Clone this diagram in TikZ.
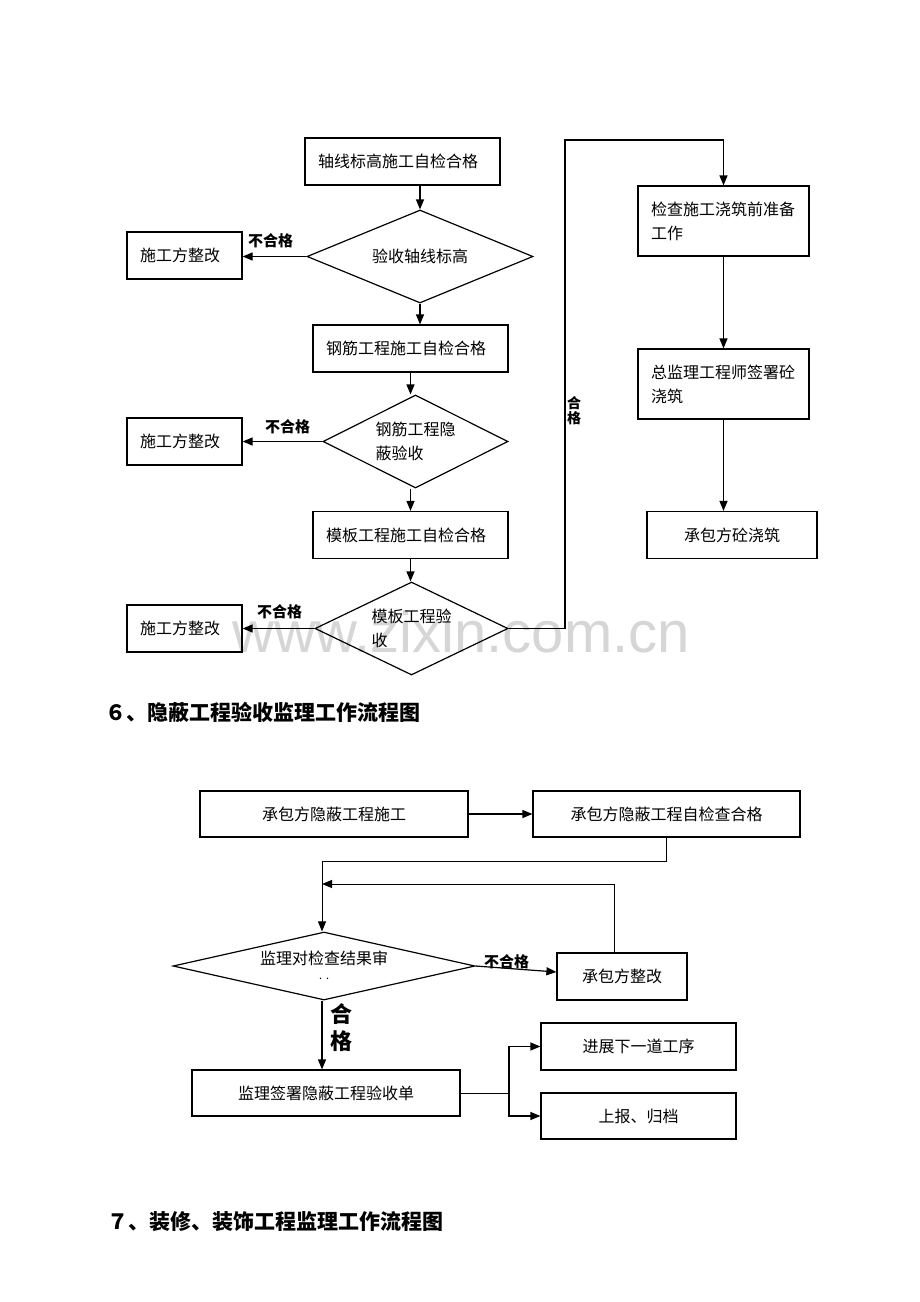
\documentclass[tikz,border=0pt]{standalone}
\usepackage{fontspec}
\setmainfont{Noto Sans CJK SC}
\newfontfamily\wmfont{Liberation Sans}
\usetikzlibrary{shapes.geometric,arrows.meta}

\begin{document}
\begin{tikzpicture}[x=1pt,y=-1pt]
    \tikzstyle{box} = [draw, rectangle, line width=1.2pt, font=\fontsize{16}{24}\selectfont, minimum height=47pt, inner sep=0pt]
    \tikzstyle{lbox} = [box, inner xsep=13pt, align=left]
    \tikzstyle{dec} = [draw, diamond, shape aspect=2, line width=1.2pt, font=\fontsize{16}{24}\selectfont, inner sep=0pt, minimum height=93pt]
    \tikzstyle{arr} = [line width=1.2pt, -{Triangle[length=10pt,width=8pt]}]
    \tikzstyle{ann} = [font=\fontsize{15}{15}\selectfont\bfseries, inner sep=0pt]
    \tikzstyle{head} = [font=\fontsize{21}{21}\selectfont\bfseries, inner sep=0pt, anchor=west]

    \useasboundingbox[fill=white] (0,0) rectangle (920,1302);
    \node[text=black!16, font=\wmfont\fontsize{58}{58}\selectfont] (wm) at (461,632) {www.zixin.com.cn};

    % upper chart
    \node[lbox, text width=169pt] (zx) at (402.5,161.5) {轴线标高施工自检合格};
    \node[dec, minimum width=226pt] (ysd) at (420,256.5) {验收轴线标高};
    \node[lbox, text width=89pt] (zg1) at (184.5,255.5) {施工方整改};
    \node[lbox, text width=169pt] (gj) at (410.5,348.5) {钢筋工程施工自检合格};
    \node[dec, minimum width=185pt, align=left] (gjd) at (415.5,441.5) {钢筋工程隐\\蔽验收};
    \node[lbox, text width=89pt] (zg2) at (184.5,441.5) {施工方整改};
    \node[lbox, text width=169pt] (mb) at (410.5,535) {模板工程施工自检合格};
    \node[dec, minimum width=193pt, align=left] (mbd) at (411.5,628.5) {模板工程验\\收};
    \node[lbox, text width=89pt] (zg3) at (184.5,628.5) {施工方整改};
    \node[lbox, text width=145pt, minimum height=70pt] (jc) at (723.5,221) {检查施工浇筑前准备\\工作};
    \node[lbox, text width=145pt, minimum height=70pt] (zj) at (723.5,384) {总监理工程师签署砼\\浇筑};
    \node[box, minimum width=170pt] (cb) at (732,535) {承包方砼浇筑};
    \coordinate (t1) at (565,140);

    \draw[arr] (ysd.north |- zx.south) -- (ysd.north);
    \draw[arr] (ysd.west) -- (ysd.west -| zg1.east);
    \draw[arr] (ysd.south) -- (ysd.south |- gj.north);
    \draw[arr] (gj.south) -- (gj.south |- gjd.north);
    \draw[arr] (gjd.west) -- (gjd.west -| zg2.east);
    \draw[arr] (gjd.south -| mb.north) -- (mb.north);
    \draw[arr] (mb.south) -- (mb.south |- mbd.north);
    \draw[arr] (mbd.west) -- (mbd.west -| zg3.east);
    \draw[arr] (mbd.east) -| (t1) -| (jc.north);
    \draw[arr] (jc.south) -- (zj.north);
    \draw[arr] (zj.south) -- (zj.south |- cb.north);

    \node[ann] (n1) at (270.5,241) {不合格};
    \node[ann] (n2) at (287.5,427) {不合格};
    \node[ann] (n3) at (279.5,612) {不合格};
    \node[ann, align=center, font=\fontsize{14}{15}\selectfont\bfseries] (hg1) at (574,411) {合\\格};

    \node[head] (h6) at (105,712) {６、隐蔽工程验收监理工作流程图};

    % lower chart
    \node[box, minimum width=268pt, minimum height=46pt] (sg) at (334,814) {承包方隐蔽工程施工};
    \node[box, minimum width=267pt, minimum height=46pt] (zc) at (666.5,814) {承包方隐蔽工程自检查合格};
    \node[dec, shape aspect=5, minimum width=302pt, minimum height=68pt, align=center] (jl) at (324,966) {监理对检查结果审\\[-7pt]{\fontsize{7}{7}\selectfont ··}};
    \node[box, minimum width=130pt] (zg4) at (622,976.5) {承包方整改};
    \node[box, minimum width=268pt, minimum height=46pt] (qs) at (326,1093) {监理签署隐蔽工程验收单};
    \node[box, minimum width=195pt] (jz) at (638.5,1046.5) {进展下一道工序};
    \node[box, minimum width=195pt, minimum height=46pt] (gd) at (638.5,1116) {上报、归档};
    \coordinate (c1) at (322,861);
    \coordinate (c2) at (322,884);
    \coordinate (c3) at (509,1093);

    \draw[arr] (sg.east) -- (zc.west);
    \draw[arr, line width=1pt] (zc.south) |- (c1) -- (c1 |- jl.north);
    \draw[arr, line width=1pt] ([xshift=-8pt]zg4.north) |- (c2);
    \draw[arr] (jl.east) -- ([yshift=4.5pt]zg4.west);
    \draw[arr] (c1 |- jl.south) -- (c1 |- qs.north);
    \draw[line width=1pt] (qs.east) -- (c3);
    \draw[arr] (c3) |- (jz.west);
    \draw[arr] (c3) |- (gd.west);

    \node[ann] (n4) at (506.5,962) {不合格};
    \node[ann, align=center, font=\fontsize{22}{27}\selectfont\bfseries] (hg2) at (341,1028) {合\\格};

    \node[head] (h7) at (107,1222) {７、装修、装饰工程监理工作流程图};
\end{tikzpicture}
\end{document}
